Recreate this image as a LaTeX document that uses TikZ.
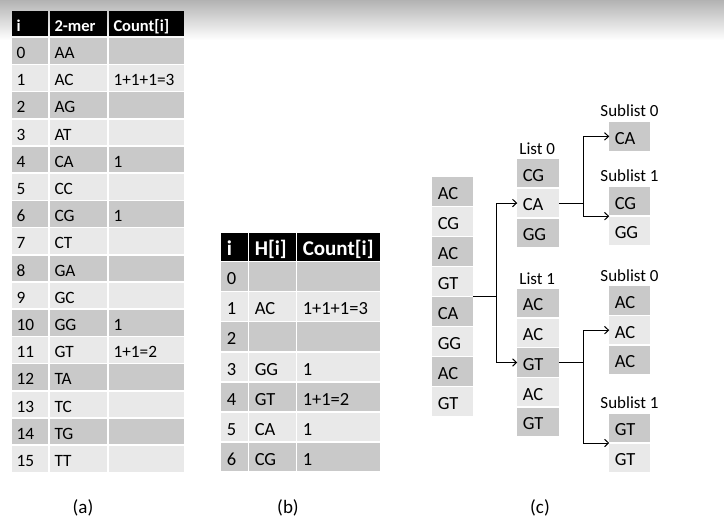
\documentclass[tikz,border=0pt]{standalone}
\usepackage{fontspec}
\setmainfont{Carlito}[Numbers={Lining,Monospaced}]
\usetikzlibrary{calc,arrows.meta}
\definecolor{cdark}{RGB}{201,201,201}
\definecolor{clight}{RGB}{233,233,233}
\def\mypad{6}
\newcommand\mycell[8]{%
 \pgfmathsetmacro\myw{#4-#2-1.5-2*\mypad}%
 \pgfmathsetmacro\myh{#5-#3-1.5}%
 \node[cellsty,#7,fill=#6,minimum height=\myh pt] (#1) at ({#2+0.75},{#3+0.75}) {\makebox[\myw pt][l]{#8}};}
\begin{document}
\begin{tikzpicture}[x=1pt,y=-1pt,
  cellsty/.style={anchor=north west, inner xsep=\mypad pt, inner ysep=0pt, outer sep=0pt},
  hdrA/.style={text=white,font=\fontsize{16.5}{19}\selectfont\bfseries, text height=15.2pt, text depth=0.5pt},
  bodyA/.style={font=\fontsize{17.3}{20}\selectfont, text height=15.8pt, text depth=0.5pt},
  hdrB/.style={text=white,font=\fontsize{21}{24}\selectfont\bfseries, text height=17pt, text depth=0.5pt},
  bodyB/.style={font=\fontsize{18.5}{21}\selectfont, text height=16.8pt, text depth=0.5pt},
  bodyC/.style={font=\fontsize{18.5}{21}\selectfont, text height=16.2pt, text depth=0.5pt},
  lbl/.style={font=\fontsize{17}{20}\selectfont, inner sep=0pt, anchor=base},
  capsty/.style={font=\fontsize{19}{22}\selectfont},
  conn/.style={line width=1pt, black},
  arr/.style={conn, -{Straight Barb[length=4pt,width=7.5pt]}}]
\useasboundingbox (0,0) rectangle (724,528);
\fill[white] (0,0) rectangle (724,528);
% top gradient
\foreach \i in {0,...,39}{
  \pgfmathsetmacro\myc{30*(1-\i/40)}
  \fill[black!\myc] (0,\i) rectangle (724,\i+1.05);
}
% ---------- table (a)
\def\mypad{5}
\mycell{ah0}{10.75}{10.5}{48.75}{37.2}{black}{hdrA}{i}
\mycell{ah1}{48.75}{10.5}{107.75}{37.2}{black}{hdrA}{2-mer}
\mycell{ah2}{107.75}{10.5}{184.75}{37.2}{black}{hdrA}{Count[i]}
\foreach \t/\m/\c [count=\k from 0] in {0/AA/{},1/AC/1+1+1=3,2/AG/{},3/AT/{},4/CA/1,5/CC/{},6/CG/1,7/CT/{},8/GA/{},9/GC/{},10/GG/1,11/GT/1+1=2,12/TA/{},13/TC/{},14/TG/{},15/TT/{}}{
  \pgfmathsetmacro\ya{37.2+27.2*\k}
  \pgfmathsetmacro\yb{\ya+27.2}
  \ifodd\k \def\myfill{clight}\else\def\myfill{cdark}\fi
  \mycell{a\k-0}{10.75}{\ya}{48.75}{\yb}{\myfill}{bodyA}{\t}
  \mycell{a\k-1}{48.75}{\ya}{107.75}{\yb}{\myfill}{bodyA}{\m}
  \mycell{a\k-2}{107.75}{\ya}{184.75}{\yb}{\myfill}{bodyA}{\c}
}
% ---------- table (b)
\def\mypad{5.5}
\mycell{bh0}{220.5}{232.5}{248.5}{261.5}{black}{hdrB}{i}
\mycell{bh1}{248.5}{232.5}{296.5}{261.5}{black}{hdrB}{H[i]}
\mycell{bh2}{296.5}{232.5}{380.5}{261.5}{black}{hdrB}{Count[i]}
\foreach \t/\m/\c [count=\k from 0] in {0/{}/{},1/AC/1+1+1=3,2/{}/{},3/GG/1,4/GT/1+1=2,5/CA/1,6/CG/1}{
  \pgfmathsetmacro\ya{261.5+30.1*\k}
  \pgfmathsetmacro\yb{\ya+30.1}
  \ifodd\k \def\myfill{clight}\else\def\myfill{cdark}\fi
  \mycell{b\k-0}{220.5}{\ya}{248.5}{\yb}{\myfill}{bodyB}{\t}
  \mycell{b\k-1}{248.5}{\ya}{296.5}{\yb}{\myfill}{bodyB}{\m}
  \mycell{b\k-2}{296.5}{\ya}{380.5}{\yb}{\myfill}{bodyB}{\c}
}
% ---------- (c) lists
\def\mypad{5.5}
\foreach \p/\xa/\xb/\top/\pit/\items in {
  LC/431.5/473.5/176.5/30/{AC,CG,AC,GT,CA,GG,AC,GT},
  L0/516.5/559.5/158.5/29.7/{CG,CA,GG},
  L1/516.5/559.5/288/29.8/{AC,AC,GT,AC,GT},
  SA0/608.5/650.5/121.5/29.8/{CA},
  SA1/608.5/650.5/186.5/29.7/{CG,GG},
  SB0/608.5/650.5/285.5/29.8/{AC,AC,AC},
  SB1/608.5/650.5/413/30/{GT,GT}}{
  \foreach \s [count=\k from 0] in \items {
    \pgfmathsetmacro\ya{\top+\pit*\k}
    \pgfmathsetmacro\yb{\ya+\pit}
    \ifodd\k \def\myfill{clight}\else\def\myfill{cdark}\fi
    \mycell{\p-\k}{\xa}{\ya}{\xb}{\yb}{\myfill}{bodyC}{\s}
  }
}
% labels
\node[lbl, anchor=base west] (tL0) at ($(L0-0.north west)+(2,-5)$) {List 0};
\node[lbl, anchor=base west] (tL1) at ($(L1-0.north west)+(2,-4)$) {List 1};
\node[lbl] (tSA0) at ($(SA0-0.north)+(0,-6)$) {Sublist 0};
\node[lbl] (tSA1) at ($(SA1-0.north)+(0,-6)$) {Sublist 1};
\node[lbl] (tSB0) at ($(SB0-0.north)+(0,-5)$) {Sublist 0};
\node[lbl] (tSB1) at ($(SB1-0.north)+(0,-5)$) {Sublist 1};
% connectors
\coordinate (lcm) at ($(LC-3.south east)!0.5!(LC-4.north east)$);
\coordinate (j0) at (496,0);
\coordinate (j1) at (583,0);
\draw[conn] (lcm) -- (j0 |- lcm);
\draw[conn] (j0 |- L0-1.west) -- (j0 |- L1-2.west);
\draw[arr] (j0 |- L0-1.west) -- (L0-1.west);
\draw[arr] (j0 |- L1-2.west) -- (L1-2.west);
% list 0 -> sublists
\coordinate (sa1m) at ($(SA1-0.south west)!0.5!(SA1-1.north west)$);
\draw[conn] (L0-1.east) -- (j1 |- L0-1.east);
\draw[conn] (j1 |- SA0-0.west) -- (j1 |- sa1m);
\draw[arr] (j1 |- SA0-0.west) -- (SA0-0.west);
\draw[arr] (j1 |- sa1m) -- (sa1m);
% list 1 -> sublists
\coordinate (sb1m) at ($(SB1-0.south west)!0.5!(SB1-1.north west)$);
\draw[conn] (L1-2.east) -- (j1 |- L1-2.east);
\draw[conn] (j1 |- SB0-1.west) -- (j1 |- sb1m);
\draw[arr] (j1 |- SB0-1.west) -- (SB0-1.west);
\draw[arr] (j1 |- sb1m) -- (sb1m);
% captions
\node[capsty] (capa) at (83,508) {(a)};
\node[capsty] (capb) at (288,508) {(b)};
\node[capsty] (capc) at (540,508) {(c)};
\end{tikzpicture}
\end{document}
